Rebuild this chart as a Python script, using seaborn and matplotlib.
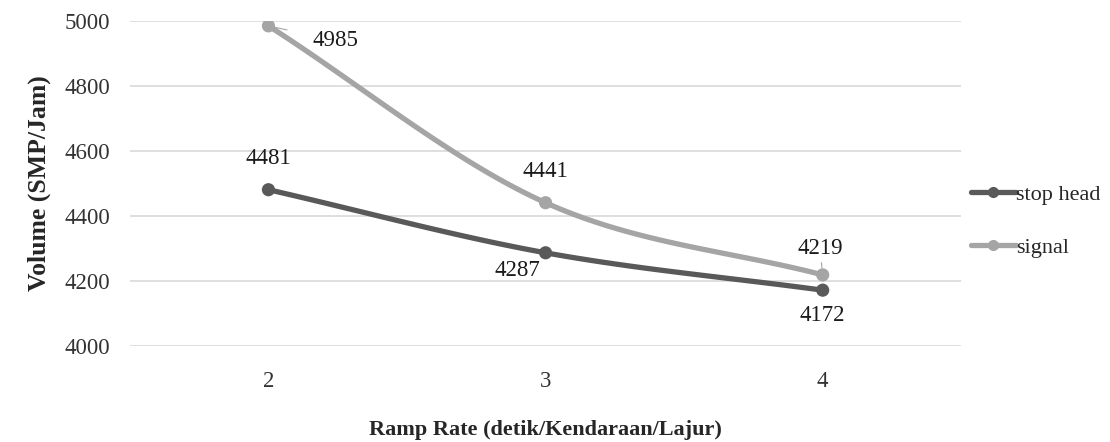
import numpy as np
import pandas as pd
import matplotlib
matplotlib.use("Agg")
import matplotlib.pyplot as plt
import seaborn as sns
from matplotlib.lines import Line2D

categories = ["2", "3", "4"]
stop_head = [4481, 4287, 4172]
signal = [4985, 4441, 4219]
series_names = ["stop head", "signal"]
colors = {"stop head": "#595959", "signal": "#A5A5A5"}
yticks = [4000, 4200, 4400, 4600, 4800, 5000]

sns.set_theme(style="white")
plt.rcParams['font.family'] = ['Liberation Serif', 'DejaVu Serif']

df = pd.DataFrame({
    "x": list(range(len(categories))) * 2,
    "value": stop_head + signal,
    "series": [series_names[0]] * 3 + [series_names[1]] * 3,
})

fig = plt.figure(figsize=(11.1, 4.42), dpi=100)
ax = fig.add_axes([0.117, 0.217, 0.749, 0.7355])


def catmull(xs, ys, n=40):
    xs = np.asarray(xs, float); ys = np.asarray(ys, float)
    px = np.concatenate([[2*xs[0]-xs[1]], xs, [2*xs[-1]-xs[-2]]])
    py = np.concatenate([[2*ys[0]-ys[1]], ys, [2*ys[-1]-ys[-2]]])
    ox, oy = [], []
    for i in range(1, len(px)-2):
        t = np.linspace(0, 1, n)
        for arr, out in ((px, ox), (py, oy)):
            p0, p1, p2, p3 = arr[i-1], arr[i], arr[i+1], arr[i+2]
            out.extend(0.5*((2*p1) + (-p0+p2)*t + (2*p0-5*p1+4*p2-p3)*t**2 + (-p0+3*p1-3*p2+p3)*t**3))
    return np.array(ox), np.array(oy)


for name in series_names:
    sub = df[df.series == name]
    sx, sy = catmull(sub.x.values, sub.value.values)
    ax.plot(sx, sy, color=colors[name], lw=3.8, solid_capstyle="round", zorder=3)
sns.scatterplot(data=df, x="x", y="value", hue="series", palette=colors,
                s=90, edgecolor="none", legend=False, ax=ax, zorder=4)

ax.set_xlim(-0.5, len(categories) - 0.5)
ax.set_ylim(4000, 5000)
ax.set_yticks(yticks)
ax.set_xticks(range(len(categories)))
ax.set_xticklabels(categories)
ax.tick_params(axis="both", labelsize=16.5, colors="#333333", length=0)
ax.tick_params(axis="x", pad=18)
ax.tick_params(axis="y", pad=14)
ax.grid(axis="y", color="#D9D9D9", lw=1.2)
ax.set_axisbelow(True)
for s in ax.spines.values():
    s.set_visible(False)

ax.set_ylabel("Volume (SMP/Jam)", fontsize=18.5, fontweight="bold", labelpad=10)
ax.set_xlabel("Ramp Rate (detik/Kendaraan/Lajur)", fontsize=16, fontweight="bold", labelpad=20)

fs = 16.5
tc = "#1a1a1a"
ax.annotate(str(signal[0]), xy=(0, signal[0]), xytext=(0.24, signal[0] - 45),
            fontsize=fs, va="center", ha="center", color=tc,
            arrowprops=dict(arrowstyle="-", color="#A5A5A5", lw=0.8, shrinkA=16, shrinkB=4))
ax.text(0, stop_head[0] + 95, str(stop_head[0]), fontsize=fs, ha="center", va="center", color=tc)
ax.text(1, signal[1] + 97, str(signal[1]), fontsize=fs, ha="center", va="center", color=tc)
ax.text(0.9, stop_head[1] - 55, str(stop_head[1]), fontsize=fs, ha="center", va="center", color=tc)
ax.annotate(str(signal[2]), xy=(2, signal[2]), xytext=(1.99, signal[2] + 80),
            fontsize=fs, va="center", ha="center", color=tc,
            arrowprops=dict(arrowstyle="-", color="#A5A5A5", lw=0.8, shrinkA=10, shrinkB=5))
ax.text(2, stop_head[2] - 78, str(stop_head[2]), fontsize=fs, ha="center", va="center", color=tc)

handles = [Line2D([0], [0], color=colors[n], lw=3.8, marker="o", markersize=7) for n in series_names]
leg = fig.legend(handles, series_names, loc="center left", bbox_to_anchor=(0.857, 0.5),
                 frameon=False, fontsize=16, handlelength=2.0, handletextpad=0.0,
                 labelspacing=1.45)

fig.savefig("out.png", dpi=100)
